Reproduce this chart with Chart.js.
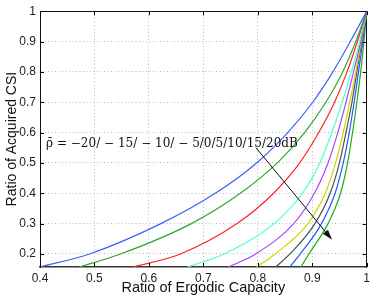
<!DOCTYPE html>
<html><head><meta charset="utf-8">
<script src="https://cdn.jsdelivr.net/npm/chart.js@4.4.0/dist/chart.umd.min.js"></script>
<style>html,body{margin:0;padding:0;background:#fff}</style>
</head><body>
<canvas id="c" width="374" height="300" style="width:374px;height:300px;display:block"></canvas>
<script>
// Ratio of acquired CSI levels (y) at which the ergodic-capacity ratio (x) was read
const yLevels = [0.157, 0.2, 0.3, 0.4, 0.5, 0.6, 0.7, 0.8, 0.9, 1.0];
const snrLabels = ['-20dB','-15dB','-10dB','-5dB','0dB','5dB','10dB','15dB','20dB'];
const xSnrM20 = [0.400, 0.491, 0.622, 0.722, 0.798, 0.855, 0.901, 0.938, 0.970, 1];
const xSnrM15 = [0.472, 0.548, 0.678, 0.768, 0.836, 0.886, 0.925, 0.956, 0.980, 1];
const xSnrM10 = [0.571, 0.658, 0.762, 0.829, 0.877, 0.912, 0.941, 0.964, 0.983, 1];
const xSnrM5  = [0.671, 0.738, 0.830, 0.882, 0.914, 0.936, 0.955, 0.972, 0.987, 1];
const xSnr0   = [0.746, 0.796, 0.866, 0.904, 0.929, 0.947, 0.962, 0.976, 0.989, 1];
const xSnr5   = [0.798, 0.832, 0.892, 0.924, 0.943, 0.957, 0.969, 0.980, 0.990, 1];
const xSnr10  = [0.833, 0.859, 0.905, 0.933, 0.950, 0.962, 0.973, 0.982, 0.991, 1];
const xSnr15  = [0.859, 0.878, 0.917, 0.942, 0.957, 0.968, 0.977, 0.985, 0.993, 1];
const xSnr20  = [0.879, 0.894, 0.929, 0.952, 0.965, 0.974, 0.982, 0.989, 0.995, 1];
const xTicks = [0.4, 0.5, 0.6, 0.7, 0.8, 0.9, 1];
const yTicks = [0.2, 0.3, 0.4, 0.5, 0.6, 0.7, 0.8, 0.9, 1];
const xRange = [0.4, 1];
const yRange = [0.157, 1];
const annotationText = 'ρ̄ = −20/ − 15/ − 10/ − 5/0/5/10/15/20dB';
const annotationAt = [0.411, 0.552];
const annotationEndX = 0.874;
const arrowFrom = [0.7965, 0.5505];
const arrowTo = [0.9366, 0.2466];

const seriesX = [xSnrM20, xSnrM15, xSnrM10, xSnrM5, xSnr0, xSnr5, xSnr10, xSnr15, xSnr20];
const colors = ['#3f5fff','#2fa82f','#ff2525','#50ffcc','#a845ff','#c8d800','#505050','#2555ff','#22a822'];

const datasets = seriesX.map((xs, k) => ({
  label: snrLabels[k],
  data: xs.map((x, i) => ({x: x, y: yLevels[i]})),
  borderColor: colors[k],
  borderWidth: 1.2,
  pointRadius: 0,
  showLine: true,
  fill: false,
  cubicInterpolationMode: 'monotone'
}));

const fmt = v => (Math.abs(v - 1) < 1e-9 ? '1' : v.toFixed(1));
const gridDash = [1, 2.5];

const extras = {
  id: 'extras',
  afterDatasetsDraw(chart) {
    const ctx = chart.ctx, a = chart.chartArea;
    const xs = chart.scales.x, ys = chart.scales.y;
    ctx.save();
    // inward tick marks
    ctx.strokeStyle = '#000'; ctx.lineWidth = 1;
    ctx.beginPath();
    xTicks.forEach(v => {
      const p = Math.round(xs.getPixelForValue(v)) + 0.5;
      ctx.moveTo(p, a.bottom); ctx.lineTo(p, a.bottom - 4);
      ctx.moveTo(p, a.top); ctx.lineTo(p, a.top + 4);
    });
    yTicks.forEach(v => {
      const p = Math.round(ys.getPixelForValue(v)) + 0.5;
      ctx.moveTo(a.left, p); ctx.lineTo(a.left + 4, p);
      ctx.moveTo(a.right, p); ctx.lineTo(a.right - 4, p);
    });
    ctx.stroke();
    // annotation text, fitted between two data x positions
    const tx = xs.getPixelForValue(annotationAt[0]);
    const ty = ys.getPixelForValue(annotationAt[1]);
    const want = xs.getPixelForValue(annotationEndX) - tx;
    ctx.font = '13px "DejaVu Serif"';
    const w = ctx.measureText(annotationText).width;
    const size = 13 * want / w;
    ctx.font = size.toFixed(2) + 'px "DejaVu Serif"';
    ctx.fillStyle = '#111';
    ctx.textBaseline = 'alphabetic';
    ctx.textAlign = 'left';
    ctx.fillText(annotationText, tx, ty);
    // arrow
    const x1 = xs.getPixelForValue(arrowFrom[0]), y1 = ys.getPixelForValue(arrowFrom[1]);
    const x2 = xs.getPixelForValue(arrowTo[0]), y2 = ys.getPixelForValue(arrowTo[1]);
    const ang = Math.atan2(y2 - y1, x2 - x1);
    ctx.strokeStyle = '#111'; ctx.lineWidth = 1;
    ctx.beginPath(); ctx.moveTo(x1, y1); ctx.lineTo(x2 - 6 * Math.cos(ang), y2 - 6 * Math.sin(ang)); ctx.stroke();
    ctx.beginPath();
    ctx.moveTo(x2, y2);
    ctx.lineTo(x2 - 11 * Math.cos(ang - 0.3), y2 - 11 * Math.sin(ang - 0.3));
    ctx.lineTo(x2 - 11 * Math.cos(ang + 0.3), y2 - 11 * Math.sin(ang + 0.3));
    ctx.closePath(); ctx.fillStyle = '#111'; ctx.fill();
    ctx.restore();
  }
};

new Chart(document.getElementById('c'), {
  type: 'scatter',
  data: { datasets },
  options: {
    responsive: false,
    animation: false,
    events: [],
    plugins: { legend: { display: false }, tooltip: { enabled: false } },
    layout: { padding: 0 },
    scales: {
      x: {
        type: 'linear', position: 'bottom', min: xRange[0], max: xRange[1],
        afterBuildTicks: s => { s.ticks = xTicks.map(v => ({value: v})); },
        afterFit: s => { s.height = 33; },
        ticks: { callback: fmt, color: '#222', font: { family: '"Liberation Sans", Arial', size: 12 }, padding: 4, maxRotation: 0 },
        grid: { color: '#b8b8b8', drawTicks: false, lineWidth: 1 },
        border: { display: true, color: '#333', width: 1.5, dash: gridDash },
        title: { display: true, text: 'Ratio of Ergodic Capacity', color: '#111', font: { family: '"Liberation Sans", Arial', size: 14.5 }, padding: { top: 0, bottom: 3 } }
      },
      y: {
        type: 'linear', position: 'left', min: yRange[0], max: yRange[1],
        afterBuildTicks: s => { s.ticks = yTicks.map(v => ({value: v})); },
        afterFit: s => { s.width = 40; },
        ticks: { callback: fmt, color: '#222', font: { family: '"Liberation Sans", Arial', size: 12 }, padding: 4 },
        grid: { color: '#b8b8b8', drawTicks: false, lineWidth: 1 },
        border: { display: true, color: '#111', width: 1, dash: gridDash },
        title: { display: true, text: 'Ratio of Acquired CSI', color: '#111', font: { family: '"Liberation Sans", Arial', size: 14 }, padding: { top: 4, bottom: 0 } }
      },
      x2: {
        type: 'linear', position: 'top', min: xRange[0], max: xRange[1],
        afterFit: s => { s.height = 9; },
        ticks: { display: false }, grid: { display: false, drawTicks: false },
        border: { display: true, color: '#111', width: 1 }
      },
      y2: {
        type: 'linear', position: 'right', min: yRange[0], max: yRange[1],
        afterFit: s => { s.width = 6; },
        ticks: { display: false }, grid: { display: false, drawTicks: false },
        border: { display: true, color: '#111', width: 1 }
      }
    }
  },
  plugins: [extras]
});
</script>
</body></html>
